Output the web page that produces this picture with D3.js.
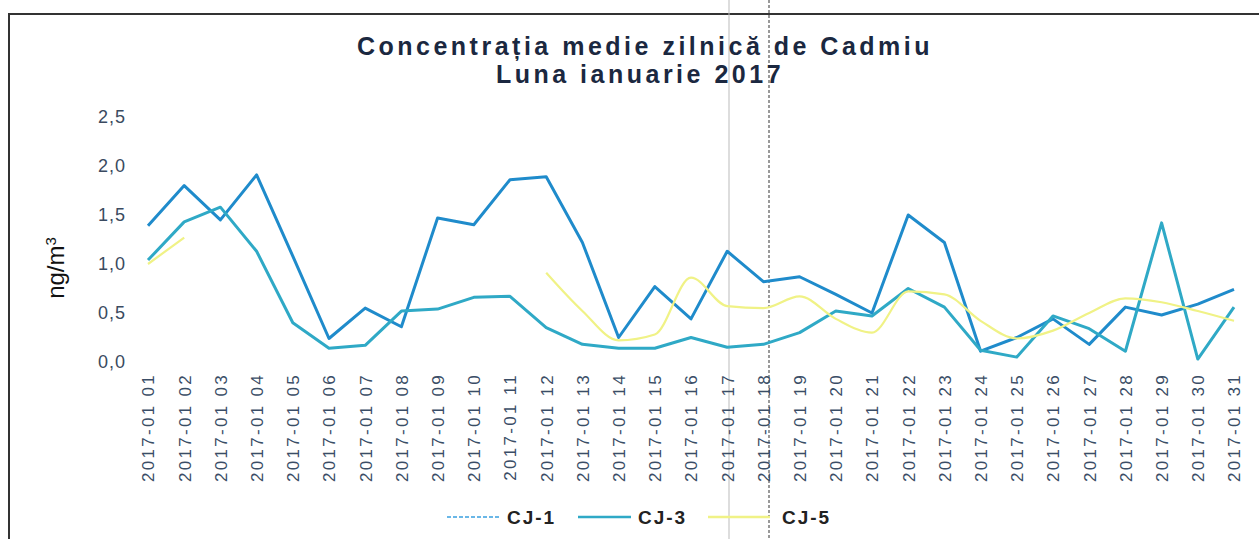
<!DOCTYPE html>
<html>
<head>
<meta charset="utf-8">
<script src="https://cdn.jsdelivr.net/npm/d3@7/dist/d3.min.js"></script>
<style>
  body { margin: 0; background: #fff; }
  svg { display: block; font-family: "Liberation Sans", Arial, sans-serif; }
</style>
</head>
<body>
<svg id="chart" width="1259" height="539"></svg>
<script>
// zilele lunii ianuarie 2017
const days = d3.range(1, 32).map(d => '2017-01 ' + String(d).padStart(2, '0'));
const yTicks = [0, 0.5, 1, 1.5, 2, 2.5];

// valori (ng/m3), null = lipsa
const cj1 = [1.39, 1.80, 1.45, 1.91, 1.08, 0.24, 0.55, 0.36, 1.47, 1.40, 1.86, 1.89, 1.22, 0.25, 0.77, 0.44,
  1.13, 0.82, 0.87, 0.69, 0.50, 1.50, 1.22, 0.11, 0.25, 0.44, 0.18, 0.56, 0.48, 0.59, 0.74];
const cj3 = [1.04, 1.43, 1.58, 1.13, 0.40, 0.14, 0.17, 0.52, 0.54, 0.66, 0.67, 0.35, 0.18, 0.14, 0.14, 0.25,
  0.15, 0.18, 0.30, 0.52, 0.47, 0.75, 0.56, 0.12, 0.05, 0.47, 0.34, 0.11, 1.42, 0.03, 0.56];
const cj5 = [1.00, 1.27, null, null, null, null, null, null, null, null, null, 0.91, 0.52, 0.22, 0.28, 0.86,
  0.57, 0.55, 0.67, 0.44, 0.30, 0.72, 0.69, 0.42, 0.24, 0.32, 0.50, 0.65, 0.61, 0.52, 0.42];

const seriesNames = ['CJ-1', 'CJ-3', 'CJ-5'];
const seriesColors = ['#1f8bcb', '#2fa9c6', '#f0f286'];

const svg = d3.select('#chart');
const W = 1259, H = 539;

// chenar scanat
svg.append('path')
  .attr('d', `M9,${H} L9,14 L${W},14`)
  .attr('fill', 'none').attr('stroke', '#333').attr('stroke-width', 2);
// urme de la scanare
svg.append('line').attr('x1', 729).attr('x2', 729).attr('y1', 0).attr('y2', H)
  .attr('stroke', '#bbb').attr('stroke-width', 1);
svg.append('line').attr('x1', 769).attr('x2', 769).attr('y1', 0).attr('y2', H)
  .attr('stroke', '#999').attr('stroke-width', 2).attr('stroke-dasharray', '3,2');

const x = d3.scalePoint().domain(days).range([148, 1234]);
const y = d3.scaleLinear().domain([0, 2.5]).range([362, 117]);

// titlu
const title = svg.append('text').attr('text-anchor', 'middle')
  .attr('fill', '#1b2840').attr('font-weight', 'bold').attr('font-size', 25)
  .attr('letter-spacing', 3.5);
title.append('tspan').attr('x', 645).attr('y', 55).text('Concentrația medie zilnică de Cadmiu');
title.append('tspan').attr('x', 640).attr('y', 83).text('Luna ianuarie 2017');

// axa y
const yAxis = svg.append('g').attr('transform', 'translate(126,0)')
  .call(d3.axisLeft(y).tickValues(yTicks).tickSize(0).tickPadding(0)
    .tickFormat(d => d3.format('.1f')(d).replace('.', ',')));
yAxis.select('.domain').remove();
yAxis.selectAll('text').attr('font-size', 18).attr('fill', '#3a4a60').attr('letter-spacing', 1)
  .attr('font-family', '"Liberation Sans", Arial, sans-serif');

svg.append('text')
  .attr('transform', 'translate(64,268) rotate(-90)')
  .attr('text-anchor', 'middle').attr('font-size', 24).attr('fill', '#111')
  .html('ng/m<tspan baseline-shift="super" font-size="15">3</tspan>');

// axa x
const xAxis = svg.append('g').attr('transform', 'translate(0,371)')
  .call(d3.axisBottom(x).tickSize(0).tickPadding(0));
xAxis.select('.domain').remove();
xAxis.selectAll('text')
  .attr('transform', 'rotate(-90)')
  .attr('text-anchor', 'end').attr('dy', '0.35em').attr('x', -2).attr('y', 0)
  .attr('font-size', 17).attr('letter-spacing', 2.3).attr('fill', '#3a4d66')
  .attr('font-family', '"Liberation Sans", Arial, sans-serif');

// linii
const data = [cj1, cj3, cj5];
data.forEach((vals, i) => {
  const line = d3.line()
    .defined(v => v != null)
    .x((v, j) => x(days[j]))
    .y(v => y(v))
    .curve(i === 2 ? d3.curveMonotoneX : d3.curveLinear);
  svg.append('path').datum(vals)
    .attr('d', line)
    .attr('fill', 'none')
    .attr('stroke', seriesColors[i])
    .attr('stroke-width', i === 2 ? 2.2 : 3)
    .attr('stroke-linejoin', 'round');
});

// legenda
const legX = [447, 578, 708];
seriesNames.forEach((name, i) => {
  const g = svg.append('g').attr('transform', `translate(${legX[i]},517)`);
  g.append('line').attr('x1', 0).attr('x2', i === 2 ? 62 : 53).attr('y1', 0).attr('y2', 0)
    .attr('stroke', i === 0 ? '#3aa0e0' : seriesColors[i])
    .attr('stroke-width', i === 0 ? 1.5 : 2.5)
    .attr('stroke-dasharray', i === 0 ? '4,2' : null);
  g.append('text').attr('x', i === 2 ? 74 : 60).attr('y', 7)
    .attr('font-size', 19).attr('font-weight', 'bold').attr('letter-spacing', 2)
    .attr('fill', '#222').text(name);
});
</script>
</body>
</html>
